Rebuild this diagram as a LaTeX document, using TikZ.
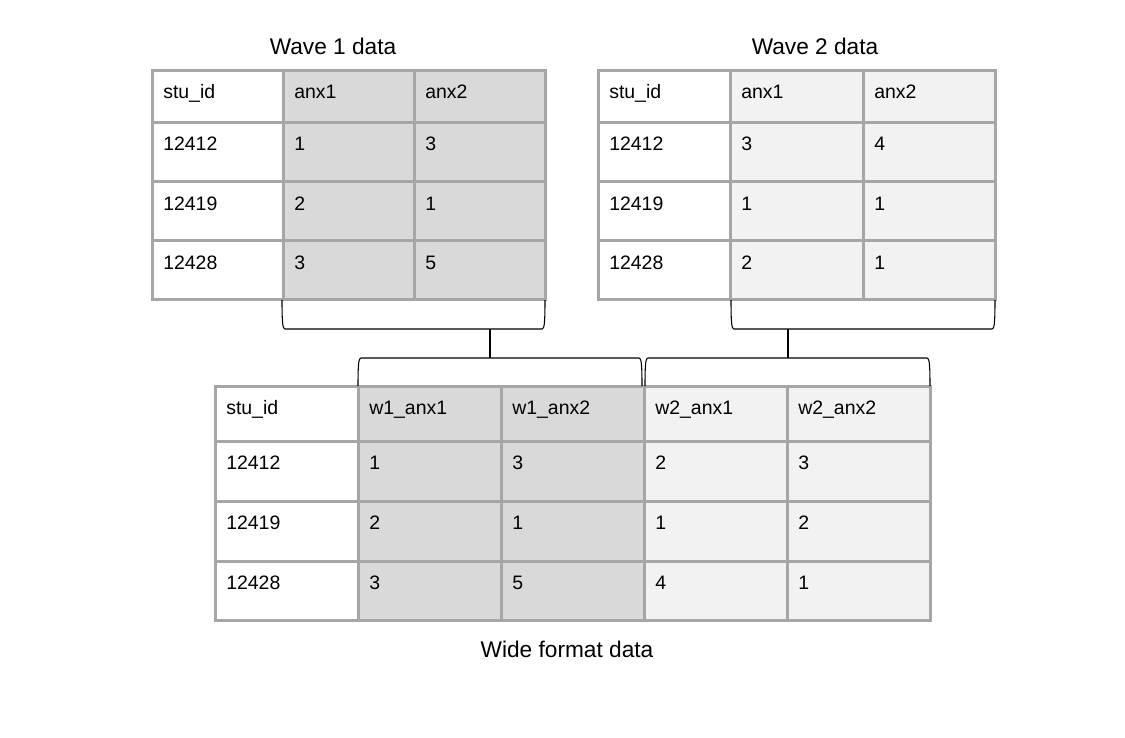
\documentclass[tikz,border=0pt]{standalone}
\usepackage{fontspec}
\setmainfont{Liberation Sans}
\definecolor{gridgray}{HTML}{A6A6A6}
\definecolor{wavedark}{HTML}{D9D9D9}
\definecolor{wavelight}{HTML}{F2F2F2}

% one table cell: name, left, top, right, bottom, fill, text
\newcommand\cellat[7]{%
  \node[cell, fill=#6, minimum width={(#4-#2)*0.75pt}, minimum height={(#5-#3)*0.75pt}] (#1) at (#2,#3) {};
  \node[celltext] (#1-t) at (#2+11,#3+28) {#7};%
}

\begin{document}
\begin{tikzpicture}[x=0.75pt,y=-0.75pt,
  cell/.style={rectangle, draw=gridgray, line width=2.25pt, inner sep=0pt, outer sep=0pt, anchor=north west},
  celltext/.style={anchor=base west, inner sep=0pt, font=\fontsize{14.6}{17}\selectfont},
  title/.style={anchor=base, inner sep=0pt, font=\fontsize{17}{20}\selectfont},
  brace/.style={line width=0.8pt, black}]
\useasboundingbox[fill=white] (0,0) rectangle (1125,738);

% titles
\node[title] (title1) at (333,55) {Wave 1 data};
\node[title] (title2) at (815,55) {Wave 2 data};
\node[title] (title3) at (567,657) {Wide format data};

% wave 1 table
\foreach \r/\ya/\yb/\a/\b/\c in {0/71/123/stu\_id/anx1/anx2, 1/123/182/12412/1/3,
    2/182/241/12419/2/1, 3/241/299/12428/3/5}{
  \cellat{wa-\r-0}{152}{\ya}{283}{\yb}{white}{\a}
  \cellat{wa-\r-1}{283}{\ya}{414}{\yb}{wavedark}{\b}
  \cellat{wa-\r-2}{414}{\ya}{545}{\yb}{wavedark}{\c}
}

% wave 2 table
\foreach \r/\ya/\yb/\a/\b/\c in {0/71/123/stu\_id/anx1/anx2, 1/123/182/12412/3/4,
    2/182/241/12419/1/1, 3/241/299/12428/2/1}{
  \cellat{wb-\r-0}{598}{\ya}{730}{\yb}{white}{\a}
  \cellat{wb-\r-1}{730}{\ya}{863}{\yb}{wavelight}{\b}
  \cellat{wb-\r-2}{863}{\ya}{995}{\yb}{wavelight}{\c}
}

% wide format table
\foreach \r/\ya/\yb/\a/\b/\c/\d/\e in {0/386/441/stu\_id/w1\_anx1/w1\_anx2/w2\_anx1/w2\_anx2,
    1/441/501/12412/1/3/2/3, 2/501/561/12419/2/1/1/2, 3/561/620/12428/3/5/4/1}{
  \cellat{wd-\r-0}{215}{\ya}{358}{\yb}{white}{\a}
  \cellat{wd-\r-1}{358}{\ya}{501}{\yb}{wavedark}{\b}
  \cellat{wd-\r-2}{501}{\ya}{644}{\yb}{wavedark}{\c}
  \cellat{wd-\r-3}{644}{\ya}{787}{\yb}{wavelight}{\d}
  \cellat{wd-\r-4}{787}{\ya}{930}{\yb}{wavelight}{\e}
}

% brackets under the wave tables
\draw[brace] (282,300) .. controls (282,324) and (282.8,329) .. (285,329) -- (542,329)
  .. controls (544.2,329) and (545,324) .. (545,300);
\draw[brace] (731,300) .. controls (731,324) and (731.8,329) .. (734,329) -- (992,329)
  .. controls (994.2,329) and (995,324) .. (995,300);

% brackets over the wide columns
\draw[brace] (358,386) .. controls (358,363) and (358.8,358) .. (361,358) -- (639,358)
  .. controls (641.2,358) and (642,363) .. (642,386);
\draw[brace] (645,386) .. controls (645,363) and (645.8,358) .. (648,358) -- (927,358)
  .. controls (929.2,358) and (930,363) .. (930,386);

% stems joining the brackets
\coordinate (up1) at (490,329);
\coordinate (lo1) at (490,358);
\coordinate (up2) at (788,329);
\coordinate (lo2) at (788,358);
\draw[brace] (up1) -- (lo1);
\draw[brace] (up2) -- (lo2);
\end{tikzpicture}
\end{document}
